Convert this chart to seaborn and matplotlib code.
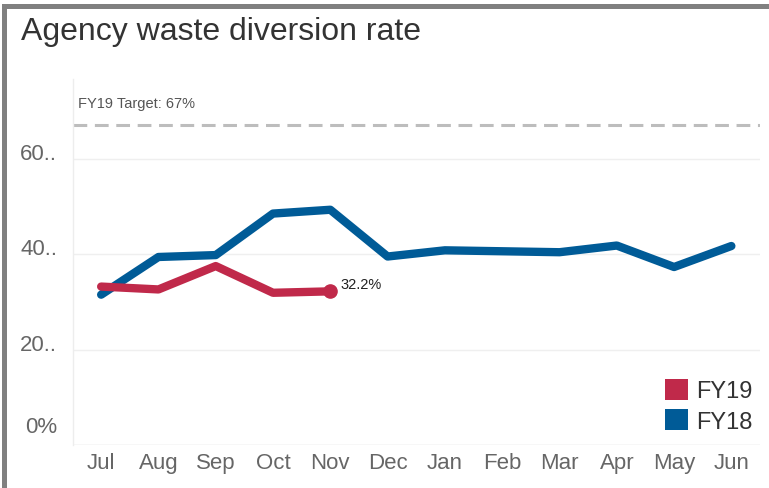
import matplotlib
matplotlib.use("Agg")
import matplotlib.pyplot as plt
import matplotlib.transforms as mtransforms
from matplotlib.patches import Patch, Rectangle
import numpy as np
import pandas as pd
import seaborn as sns

# ---- data -------------------------------------------------------------
months = ["Jul", "Aug", "Sep", "Oct", "Nov", "Dec",
          "Jan", "Feb", "Mar", "Apr", "May", "Jun"]
fy18 = [31.5, 39.4, 39.8, 48.5, 49.3, 39.5, 40.8, 40.6, 40.4, 41.8, 37.3, 41.7]
fy19 = [33.2, 32.6, 37.5, 31.9, 32.2]
target = 67
target_label = "FY19 Target: 67%"
series_names = ["FY19", "FY18"]
ytick_values = [0, 20, 40, 60]
ytick_labels = ["0%", "20..", "40..", "60.."]
title = "Agency waste diversion rate"

RED = "#C0294A"
BLUE = "#005B97"

df = pd.concat([
    pd.DataFrame({"month": months, "pos": range(len(fy18)), "rate": fy18, "series": "FY18"}),
    pd.DataFrame({"month": months[:len(fy19)], "pos": range(len(fy19)), "rate": fy19, "series": "FY19"}),
], ignore_index=True)

# ---- figure -----------------------------------------------------------
sns.set_style("white")
plt.rcParams["font.family"] = ["Liberation Sans", "DejaVu Sans"]

W, H = 769, 489
fig = plt.figure(figsize=(W / 100, H / 100), dpi=100)
ax = fig.add_axes([72.5 / W, (H - 446) / H, (760 - 72.5) / W, (446 - 80) / H])

palette = {"FY18": BLUE, "FY19": RED}
sns.lineplot(data=df, x="pos", y="rate", hue="series", hue_order=["FY18", "FY19"],
             palette=palette, linewidth=6, sort=False, legend=False, ax=ax,
             solid_capstyle="round", solid_joinstyle="round")

# end-point marker and value label for the current year
last_i = len(fy19) - 1
ax.plot([last_i], [fy19[-1]], "o", color=RED, markersize=9.5, zorder=5)
ax.annotate(f"{fy19[-1]:.1f}%", xy=(last_i, fy19[-1]), xytext=(7, 5),
            textcoords="offset points", va="center", ha="left",
            fontsize=10.5, color="#222222")

# target line
ax.axhline(target, color="#BDBDBD", linewidth=2.2, dashes=(4.5, 2.5), zorder=1)
ax.annotate(target_label, xy=(0, target), xycoords=("axes fraction", "data"),
            xytext=(4, 13), textcoords="offset points", va="baseline", ha="left",
            fontsize=10.5, color="#555555")

# axes styling
ax.set_xlim(-0.5, len(months) - 0.5)
ax.set_ylim(0, 76.7)
ax.set_xticks(range(len(months)))
ax.set_xticklabels(months)
ax.set_xticks(np.arange(-0.5, len(months)), minor=True)
ax.set_yticks(ytick_values)
ax.set_yticklabels(ytick_labels)
ax.set_xlabel("")
ax.set_ylabel("")

ax.tick_params(axis="x", which="major", length=0, pad=5, labelsize=16, labelcolor="#666666")
ax.tick_params(axis="x", which="minor", length=5, width=1, color="#E6E6E6")
ax.tick_params(axis="y", length=0, pad=11, labelsize=16, labelcolor="#666666")

for lbl in ax.get_yticklabels():
    lbl.set_va("baseline")
    if lbl.get_text() == "0%":
        lbl.set_transform(lbl.get_transform() +
                          mtransforms.ScaledTranslation(0, 13 / 100, fig.dpi_scale_trans))

ax.grid(axis="y", color="#EFEFEF", linewidth=1)
ax.grid(axis="x", visible=False)
ax.set_axisbelow(True)
for side in ["top", "right", "bottom"]:
    ax.spines[side].set_visible(False)
ax.spines["left"].set_color("#EDEDED")
ax.spines["left"].set_linewidth(1)
ax.axhline(0, color="#EAEAEA", linewidth=1, zorder=0)

# legend
handles = [Patch(facecolor=palette[s], edgecolor="none") for s in series_names]
leg = ax.legend(handles, series_names, loc="lower right",
                bbox_to_anchor=(753 / W, (H - 434) / H), bbox_transform=fig.transFigure,
                frameon=False, fontsize=17, handlelength=1.0, handleheight=1.0,
                handletextpad=0.35, labelspacing=0.3, borderpad=0, borderaxespad=0)
for t in leg.get_texts():
    t.set_color("#333333")

# title and frame
fig.text(21 / W, 1 - 40 / H, title, fontsize=23, color="#333333", va="baseline", ha="left")
fig.patches.append(Rectangle((2 / W, 1 - 10 / H), 1, 5 / H, transform=fig.transFigure,
                             facecolor="#808080", edgecolor="none"))
fig.patches.append(Rectangle((2 / W, 0), 5 / W, 1 - 5 / H, transform=fig.transFigure,
                             facecolor="#808080", edgecolor="none"))

fig.savefig("out.png", dpi=100)
